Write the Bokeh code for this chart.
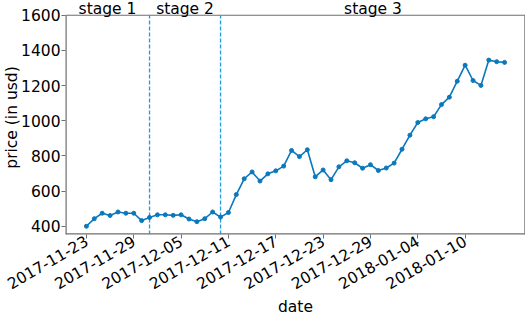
import pandas as pd
from bokeh.plotting import figure
from bokeh.models import FixedTicker, DatetimeTickFormatter, Label, Range1d
from bokeh.embed import file_html
from bokeh.resources import INLINE
import math

start_date = "2017-11-23"
prices = [400, 443, 474, 461, 481, 474, 474, 432, 450, 465, 465, 462, 465, 441, 426, 443,
          481, 452, 478, 580, 670, 709, 657, 698, 715, 742, 831, 796, 835, 681, 720, 665,
          738, 772, 761, 730, 750, 717, 731, 759, 838, 918, 990, 1011, 1023, 1092, 1134,
          1225, 1316, 1229, 1201, 1345, 1336, 1332]
tick_dates = ["2017-11-23", "2017-11-29", "2017-12-05", "2017-12-11", "2017-12-17",
              "2017-12-23", "2017-12-29", "2018-01-04", "2018-01-10"]
stage_bounds = ["2017-12-01", "2017-12-10"]
stage_names = ["stage 1", "stage 2", "stage 3"]
y_ticks = [400, 600, 800, 1000, 1200, 1400, 1600]

dates = pd.date_range(start_date, periods=len(prices), freq="D")
day = pd.Timedelta(days=1)
span_days = (dates[-1] - dates[0]) / day
x0 = dates[0] - 0.05 * span_days * day
x1 = dates[-1] + 0.05 * span_days * day
y_lo, y_top = 353, 1600
y_canvas_top = 1684   # room above the plot box for the stage labels

FONT = "DejaVu Sans"
FS = "15.5px"
LINE = "#0a78bd"
DASH = "#1f9bde"
AX = "#6e6e6e"

p = figure(width=525, height=318, x_axis_type="datetime", output_backend="svg",
           toolbar_location=None, x_range=Range1d(x0, x1),
           y_range=Range1d(y_lo, y_canvas_top),
           min_border_left=0, min_border_right=0, min_border_top=0, min_border_bottom=0)

# plot box (spines) drawn within the data ranges
p.segment(x0=[x0], y0=[y_top], x1=[x1], y1=[y_top], line_color=AX, line_width=1.2)
p.segment(x0=[x0, x0, x1], y0=[y_lo, y_lo, y_lo], x1=[x1, x0, x1],
          y1=[y_lo, y_top, y_top], line_color=AX, line_width=2.4)

bounds = [pd.Timestamp(b) for b in stage_bounds]
p.segment(x0=bounds, y0=[y_lo] * len(bounds), x1=bounds, y1=[y_top] * len(bounds),
          line_color=DASH, line_width=1.3, line_dash="4 2")

p.line(dates, prices, line_color=LINE, line_width=1.6)
p.scatter(dates, prices, size=4, fill_color=LINE, line_color=LINE)

edges = [x0] + bounds + [x1]
for i, name in enumerate(stage_names):
    mid = edges[i] + (edges[i + 1] - edges[i]) / 2
    p.add_layout(Label(x=mid, y=y_top, text=name, text_align="center",
                       text_baseline="alphabetic", y_offset=6, text_font=FONT,
                       text_font_size=FS, text_color="#000000"))

p.xaxis.ticker = FixedTicker(ticks=[pd.Timestamp(t).value / 1e6 for t in tick_dates])
p.xaxis.formatter = DatetimeTickFormatter(days="%Y-%m-%d", months="%Y-%m-%d",
                                          hours="%Y-%m-%d")
p.xaxis.major_label_orientation = math.pi / 6
p.yaxis.ticker = FixedTicker(ticks=y_ticks)

p.xaxis.axis_label = "date"
p.yaxis.axis_label = "price (in usd)"

for ax in (p.xaxis, p.yaxis):
    ax.axis_label_text_font = FONT
    ax.axis_label_text_font_size = FS
    ax.axis_label_text_font_style = "normal"
    ax.axis_label_text_color = "#000000"
    ax.major_label_text_font = FONT
    ax.major_label_text_font_size = FS
    ax.major_label_text_color = "#000000"
    ax.axis_line_color = None
    ax.major_tick_line_color = AX
    ax.minor_tick_line_color = None
    ax.major_tick_out = 4
    ax.major_tick_in = 0
    ax.major_label_standoff = 1
p.yaxis.axis_label_standoff = -3
p.xaxis.axis_label_standoff = 0

p.grid.visible = False
p.outline_line_color = None
p.background_fill_color = "white"
p.border_fill_color = "white"

open("out.html", "w").write(file_html(p, INLINE))
